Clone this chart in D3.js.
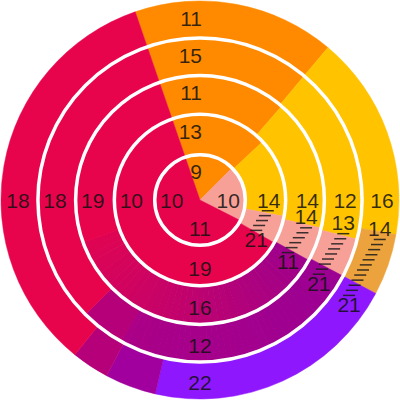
<!DOCTYPE html>
<html>
<head>
<meta charset="utf-8">
<script src="https://cdn.jsdelivr.net/npm/d3@7"></script>
<style>
  html, body { margin: 0; background: #fff; }
  svg { display: block; }
</style>
</head>
<body>
<div id="chart"></div>
<script>
const width = 400;
const height = 400;

// rings, innermost first
const rings = [1, 2, 3, 4, 5];

// colour bands of each ring, clockwise from the crimson/orange edge (share of a full turn)
const ring1Bands = [["orange", 64], ["salmon", 72], ["crimson", 224]];
const ring2Bands = [["orange", 66], ["gold", 54], ["salmon", 19], ["crimson", 221]];
const ring3Bands = [["orange", 60], ["gold", 62], ["salmon", 16], ["fade3", 131], ["crimson", 91]];
const ring4Bands = [["orange", 59], ["gold", 64], ["salmon", 14], ["fade4", 91], ["magenta", 16], ["crimson", 116]];
const ring5Bands = [["orange", 59], ["gold", 60], ["tan", 18], ["violet", 75], ["plum", 15], ["magenta", 11], ["crimson", 122]];
const ringBands = [ring1Bands, ring2Bands, ring3Bands, ring4Bands, ring5Bands];

// label slots and the numbers printed in each ring
const slots = ["top", "right", "rightLow", "lowRight", "bottom", "left"];
const ring1Labels = [9, 10, null, null, 11, 10];
const ring2Labels = [13, 14, null, 21, 19, 10];
const ring3Labels = [11, 14, 14, 11, 16, 19];
const ring4Labels = [15, 12, 13, 21, 12, 18];
const ring5Labels = [11, 16, 14, 21, 22, 18];
const ringLabels = [ring1Labels, ring2Labels, ring3Labels, ring4Labels, ring5Labels];

const deg = Math.PI / 180;
const cx = width / 2, cy = height / 2;

const color = d3.scaleOrdinal()
  .domain(["crimson", "orange", "gold", "salmon", "tan", "violet", "plum", "magenta"])
  .range(["#e8044c", "#ff8a00", "#ffc300", "#f6a098", "#eca33d", "#8f17fd", "#a1009f", "#b6007a"]);

// bands that shade from one colour into another
const fades = {
  fade3: d3.interpolateRgb("#9e008c", "#df0452"),
  fade4: d3.interpolateRgb("#9b0093", "#ab0087")
};

const radius = d3.scalePow().exponent(0.92).domain([0, 5]).range([0, 199]);
const slotAngle = d3.scaleOrdinal().domain(slots).range([0, 90, 99, 125, 180, 270]);

const svg = d3.select("#chart").append("svg")
  .attr("width", width)
  .attr("height", height);

const g = svg.append("g").attr("transform", `translate(${cx},${cy})`);

const start = -19 * deg;
const pie = d3.pie().sort(null).value(d => d[1])
  .startAngle(start).endAngle(start + 2 * Math.PI);

rings.forEach((ring, i) => {
  const arc = d3.arc().innerRadius(radius(i)).outerRadius(radius(i + 1));
  const pieces = [];
  pie(ringBands[i]).forEach(p => {
    const key = p.data[0];
    if (fades[key]) {
      const n = 40;
      d3.range(n).forEach(k => {
        const a0 = p.startAngle + (p.endAngle - p.startAngle) * k / n;
        const a1 = p.startAngle + (p.endAngle - p.startAngle) * (k + 1) / n;
        pieces.push({ startAngle: a0, endAngle: a1 + 0.003, fill: fades[key]((k + 0.5) / n) });
      });
    } else {
      pieces.push({ startAngle: p.startAngle, endAngle: p.endAngle, fill: color(key) });
    }
  });
  g.append("g").selectAll("path")
    .data(pieces)
    .join("path")
    .attr("d", arc)
    .attr("fill", d => d.fill)
    .attr("stroke", d => d.fill)
    .attr("stroke-width", 0.5);
});

// white rings between the bands
g.append("g").selectAll("circle")
  .data(rings.slice(0, 4))
  .join("circle")
  .attr("r", d => radius(d))
  .attr("fill", "none")
  .attr("stroke", "#fff")
  .attr("stroke-width", 3.5);

function labelPos(i, slot) {
  const r = radius(i + 1) - 17;
  const a = slotAngle(slot) * deg;
  return [r * Math.sin(a), -r * Math.cos(a)];
}

// the crowded trail of tick marks between the two lower-right labels
rings.forEach((ring, i) => {
  const vals = ringLabels[i];
  if (vals[3] == null) return;
  const p0 = labelPos(i, "rightLow");
  const p1 = labelPos(i, "lowRight");
  const y0 = p0[1] + (vals[2] != null ? 11 : 0);
  const y1 = p1[1] - 9;
  const n = Math.round((y1 - y0) / 5.3) + 1;
  const ix = d3.interpolateNumber(p0[0], p1[0]);
  const iy = d3.interpolateNumber(y0, y1);
  g.append("g").selectAll("line")
    .data(d3.range(n))
    .join("line")
    .attr("x1", k => ix(k / (n - 1)) - 6)
    .attr("x2", k => ix(k / (n - 1)) + 6)
    .attr("y1", k => iy(k / (n - 1)))
    .attr("y2", k => iy(k / (n - 1)))
    .attr("stroke", "#1a1a1a")
    .attr("stroke-opacity", 0.85)
    .attr("stroke-width", 1.5);
});

// value labels
rings.forEach((ring, i) => {
  const items = slots.map((s, j) => ({ slot: s, value: ringLabels[i][j] }))
    .filter(d => d.value != null);
  g.append("g").selectAll("text")
    .data(items)
    .join("text")
    .attr("x", d => d.slot === "top" ? 2 : labelPos(i, d.slot)[0])
    .attr("y", d => labelPos(i, d.slot)[1])
    .attr("dy", "0.36em")
    .attr("text-anchor", d => d.slot === "top" ? "end" : "middle")
    .style("font-family", "'Liberation Sans', Arial, sans-serif")
    .style("font-size", "21px")
    .attr("fill", "#111")
    .attr("fill-opacity", 0.85)
    .text(d => d.value);
});
</script>
</body>
</html>
